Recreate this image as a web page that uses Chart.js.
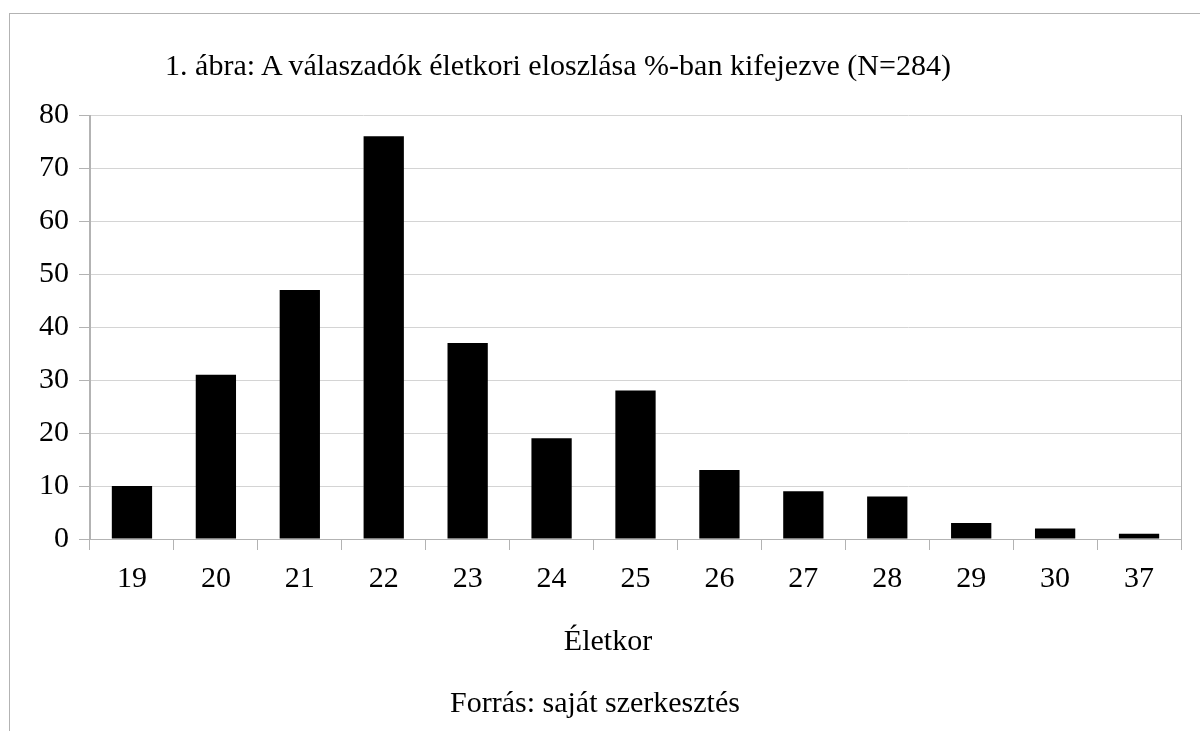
<!DOCTYPE html>
<html lang="hu">
<head>
<meta charset="utf-8">
<title>Életkori eloszlás</title>
<script src="https://cdn.jsdelivr.net/npm/chart.js@4.4.1/dist/chart.umd.min.js"></script>
<style>
  html, body { margin: 0; padding: 0; background: #fff; }
  body { width: 1200px; height: 731px; overflow: hidden; position: relative; font-family: 'Liberation Serif', 'Times New Roman', serif; color: #000; }
  .frame { position: absolute; left: 9px; top: 13px; width: 1400px; height: 900px; border: 1px solid #b3b3b3; box-sizing: border-box; }
  .wrap { position: absolute; left: 0; top: 0; width: 1200px; height: 731px; }
  .txt { position: absolute; font-size: 30px; line-height: 30px; text-align: center; white-space: nowrap; }
  #title { left: 0; width: 1116px; top: 50px; }
  #xtitle { left: 0; width: 1216px; top: 625px; }
  #source { left: 0; width: 1190px; top: 687px; }
</style>
</head>
<body>
<div class="frame"></div>
<div class="wrap"><canvas id="chart"></canvas></div>
<div class="txt" id="title">1. ábra: A válaszadók életkori eloszlása %-ban kifejezve (N=284)</div>
<div class="txt" id="xtitle">Életkor</div>
<div class="txt" id="source">Forrás: saját szerkesztés</div>
<script>
const ageLabels = ['19', '20', '21', '22', '23', '24', '25', '26', '27', '28', '29', '30', '37'];
const respondentCounts = [10, 31, 47, 76, 37, 19, 28, 13, 9, 8, 3, 2, 1];
const yMin = 0;
const yMax = 80;
const yStep = 10;

const AXIS_GRAY = '#b3b3b3';
const GRID_GRAY = '#d4d4d4';
const FONT = { family: "'Liberation Serif', 'Times New Roman', serif", size: 30 };

new Chart(document.getElementById('chart'), {
  type: 'bar',
  data: {
    labels: ageLabels,
    datasets: [{
      data: respondentCounts,
      backgroundColor: '#000000',
      borderWidth: 0,
      barPercentage: 0.48,
      categoryPercentage: 1,
    }],
  },
  options: {
    responsive: true,
    maintainAspectRatio: false,
    animation: false,
    layout: { padding: { top: 115, right: 19, bottom: 132, left: 0 } },
    plugins: {
      legend: { display: false },
      title: { display: false },
      tooltip: { enabled: false },
    },
    scales: {
      x: {
        afterFit(scale) { scale.height = 60; },
        grid: {
          offset: true,
          drawOnChartArea: true,
          // only the left/right edges of the plot frame are drawn inside
          color: (ctx) => (ctx.type !== 'tick' || ctx.index === 0) ? AXIS_GRAY : 'rgba(0,0,0,0)',
          tickColor: AXIS_GRAY,
          tickLength: 11,
          lineWidth: 1,
        },
        border: { color: AXIS_GRAY, width: 1 },
        ticks: { color: '#000', font: FONT, padding: 11, maxRotation: 0 },
      },
      y: {
        min: yMin,
        max: yMax,
        afterFit(scale) { scale.width = 90; },
        grid: { color: GRID_GRAY, tickColor: AXIS_GRAY, tickLength: 11, lineWidth: 1 },
        border: { color: AXIS_GRAY, width: 1 },
        ticks: { stepSize: yStep, color: '#000', font: FONT, padding: 10 },
      },
    },
  },
});
</script>
</body>
</html>
